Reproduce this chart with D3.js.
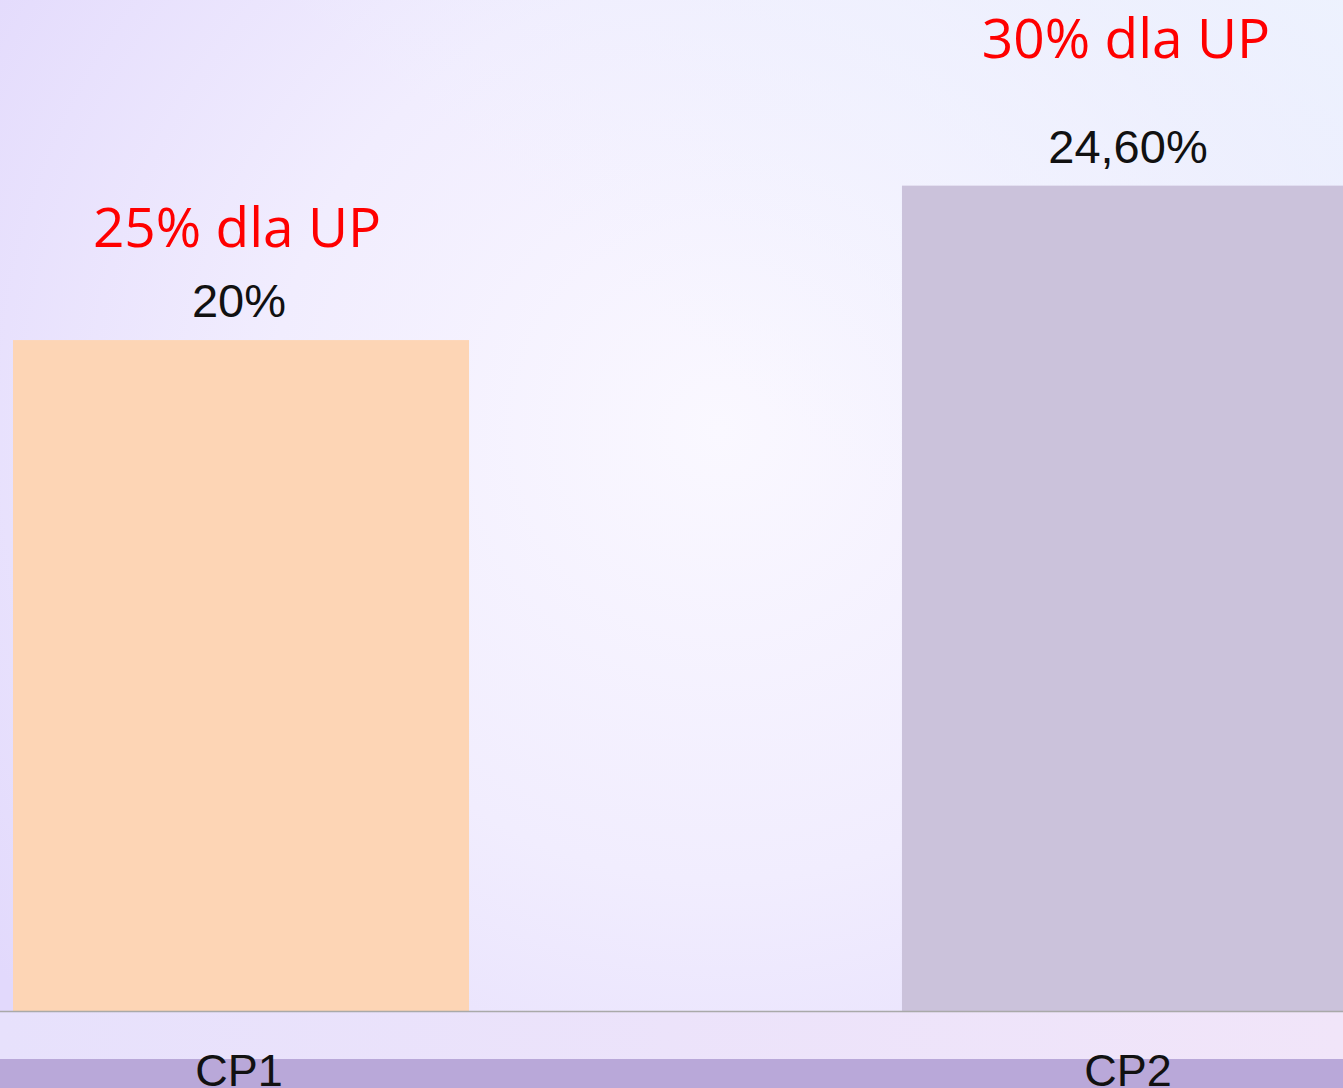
<!DOCTYPE html>
<html><head><meta charset="utf-8">
<script src="https://cdn.jsdelivr.net/npm/d3@7"></script>
<style>html,body{margin:0;padding:0;overflow:hidden;background:#f4f1fe}</style>
</head><body>
<script>
const categories = ["CP1", "CP2"];
const values = [20, 24.6];
const valueLabels = ["20%", "24,60%"];
const notes = ["25% dla UP", "30% dla UP"];
const barColors = ["#fdd5b5", "#cbc2db"];

const W = 1343, H = 1088;
const svg = d3.select("body").append("svg").attr("width", W).attr("height", H);
const defs = svg.append("defs");
const rg = defs.append("radialGradient").attr("id","bg").attr("gradientUnits","userSpaceOnUse")
  .attr("cx",720).attr("cy",430).attr("r",900);
rg.append("stop").attr("offset","0").attr("stop-color","#faf8ff");
rg.append("stop").attr("offset","0.5").attr("stop-color","#f1edfe");
rg.append("stop").attr("offset","1").attr("stop-color","#e2d9fc");
svg.append("rect").attr("width",W).attr("height",H).attr("fill","url(#bg)");
const lg = defs.append("linearGradient").attr("id","tr").attr("x1","1").attr("y1","0").attr("x2","0.6").attr("y2","0.4");
lg.append("stop").attr("offset","0").attr("stop-color","#eef4fe").attr("stop-opacity",0.9);
lg.append("stop").attr("offset","1").attr("stop-color","#eef4fe").attr("stop-opacity",0);
svg.append("rect").attr("width",W).attr("height",H).attr("fill","url(#tr)");

const baseY = 1011.5;
const x = d3.scaleBand().domain(categories).range([13, 1358]).paddingInner(0.487).paddingOuter(0);
const y = d3.scaleLinear().domain([0, 30.13]).range([baseY, 0]);

const lb = defs.append("linearGradient").attr("id","lb").attr("x1","0").attr("x2","1");
lb.append("stop").attr("offset","0").attr("stop-color","#e7e1fc");
lb.append("stop").attr("offset","1").attr("stop-color","#f1e5f9");
svg.append("rect").attr("x",0).attr("y",baseY).attr("width",W).attr("height",1059-baseY).attr("fill","url(#lb)");
svg.append("rect").attr("x",0).attr("y",1059).attr("width",W).attr("height",H-1059).attr("fill","#b9a8d9");

svg.selectAll("rect.bar").data(values).join("rect").attr("class","bar")
  .attr("x",(d,i)=>x(categories[i])).attr("width",x.bandwidth())
  .attr("y",d=>y(d)).attr("height",d=>y(0)-y(d))
  .attr("fill",(d,i)=>barColors[i]);

svg.append("line").attr("x1",0).attr("x2",W).attr("y1",baseY).attr("y2",baseY)
  .attr("stroke","#a9a9a9").attr("stroke-width",1.5);

const cx = i => x(categories[i]) + x.bandwidth()/2;
svg.selectAll("text.val").data(valueLabels).join("text").attr("class","val")
  .attr("x",(d,i)=>cx(i)-2).attr("y",(d,i)=>y(values[i])-23)
  .attr("text-anchor","middle").attr("font-family","Liberation Sans, Arial, sans-serif")
  .attr("font-size",47).attr("fill","#111").text(d=>d);

const noteOffsets = [93, 128];
svg.selectAll("text.note").data(notes).join("text").attr("class","note")
  .attr("x",(d,i)=>cx(i)-4).attr("y",(d,i)=>y(values[i])-noteOffsets[i])
  .attr("text-anchor","middle").attr("font-family","Open Sans, Liberation Sans, sans-serif")
  .attr("font-size",55).attr("fill","#ff0000").text(d=>d);

const xAxis = svg.append("g").attr("transform",`translate(0,${baseY})`)
  .call(d3.axisBottom(x).tickSize(0).tickPadding(0));
xAxis.select(".domain").remove();
xAxis.selectAll("text").attr("y",74).attr("dy",0).attr("x",-2)
  .attr("font-family","Liberation Sans, Arial, sans-serif").attr("font-size",45).attr("fill","#111");
</script>
</body></html>
